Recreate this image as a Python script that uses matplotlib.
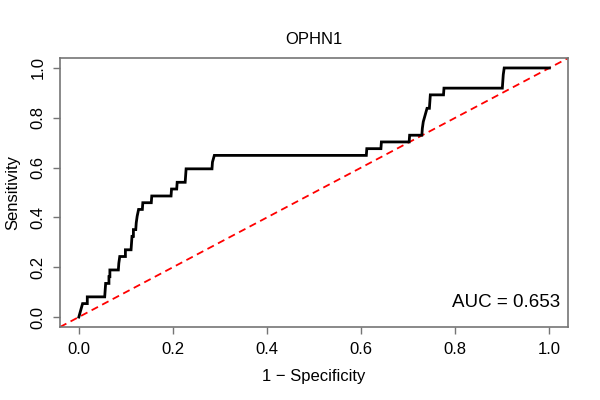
import matplotlib
matplotlib.use("Agg")
import matplotlib.pyplot as plt
import numpy as np

plt.rcParams['font.family'] = ['Liberation Sans', 'DejaVu Sans']

title = "OPHN1"
auc_text = "AUC = 0.653"

fpr = [0.0, 0.004, 0.008, 0.018, 0.018, 0.055, 0.056, 0.057, 0.064, 0.064, 0.066, 0.066,
       0.084, 0.085, 0.087, 0.099, 0.099, 0.111, 0.112, 0.113, 0.116, 0.116, 0.121, 0.122,
       0.124, 0.127, 0.135, 0.136, 0.154, 0.155, 0.196, 0.197, 0.208, 0.209, 0.226, 0.227,
       0.228, 0.283, 0.284, 0.288, 0.611, 0.612, 0.642, 0.643, 0.702, 0.703, 0.729, 0.730,
       0.732, 0.736, 0.740, 0.745, 0.746, 0.747, 0.775, 0.776, 0.900, 0.901, 0.902, 0.904, 1.0]
tpr = [0.0, 0.027, 0.054, 0.054, 0.081, 0.081, 0.108, 0.135, 0.135, 0.162, 0.162, 0.189,
       0.189, 0.216, 0.243, 0.243, 0.270, 0.270, 0.297, 0.324, 0.324, 0.351, 0.351, 0.378,
       0.405, 0.432, 0.432, 0.459, 0.459, 0.486, 0.486, 0.514, 0.514, 0.541, 0.541, 0.568,
       0.595, 0.595, 0.622, 0.649, 0.649, 0.676, 0.676, 0.703, 0.703, 0.730, 0.730, 0.757,
       0.784, 0.811, 0.838, 0.838, 0.865, 0.892, 0.892, 0.919, 0.919, 0.946, 0.973, 1.0, 1.0]

ticks = [0.0, 0.2, 0.4, 0.6, 0.8, 1.0]
tick_labels = ["0.0", "0.2", "0.4", "0.6", "0.8", "1.0"]

fig = plt.figure(figsize=(6, 4), dpi=100)
ax = fig.add_axes([0.1, 0.1825, 0.847, 0.6725])

ax.plot([-0.04, 1.04], [-0.04, 1.04], color='#ff0000', linestyle=(0, (4, 2.6)), linewidth=1.3, zorder=2)
ax.plot(fpr, tpr, color='black', linewidth=2.0, solid_joinstyle='miter', zorder=3)

ax.set_xlim(-0.04, 1.04)
ax.set_ylim(-0.04, 1.04)
ax.set_xticks(ticks)
ax.set_xticklabels(tick_labels)
ax.set_yticks(ticks)
ax.set_yticklabels(tick_labels, rotation=90, va='center')

for s in ax.spines.values():
    s.set_color('#757575')
    s.set_linewidth(1.2)
ax.tick_params(axis='both', which='major', direction='out', length=5, width=1.0,
               color='#757575', labelsize=12, labelcolor='black', pad=5.5)

ax.set_xlabel("1 \u2212 Specificity", fontsize=12, labelpad=9)
ax.set_ylabel("Sensitivity", fontsize=12, labelpad=7)
ax.set_title(title, fontsize=12, pad=10)

ax.text(1.023, 0.058, auc_text, fontsize=13.5, ha='right', va='center')

fig.savefig("out.png", dpi=100)
